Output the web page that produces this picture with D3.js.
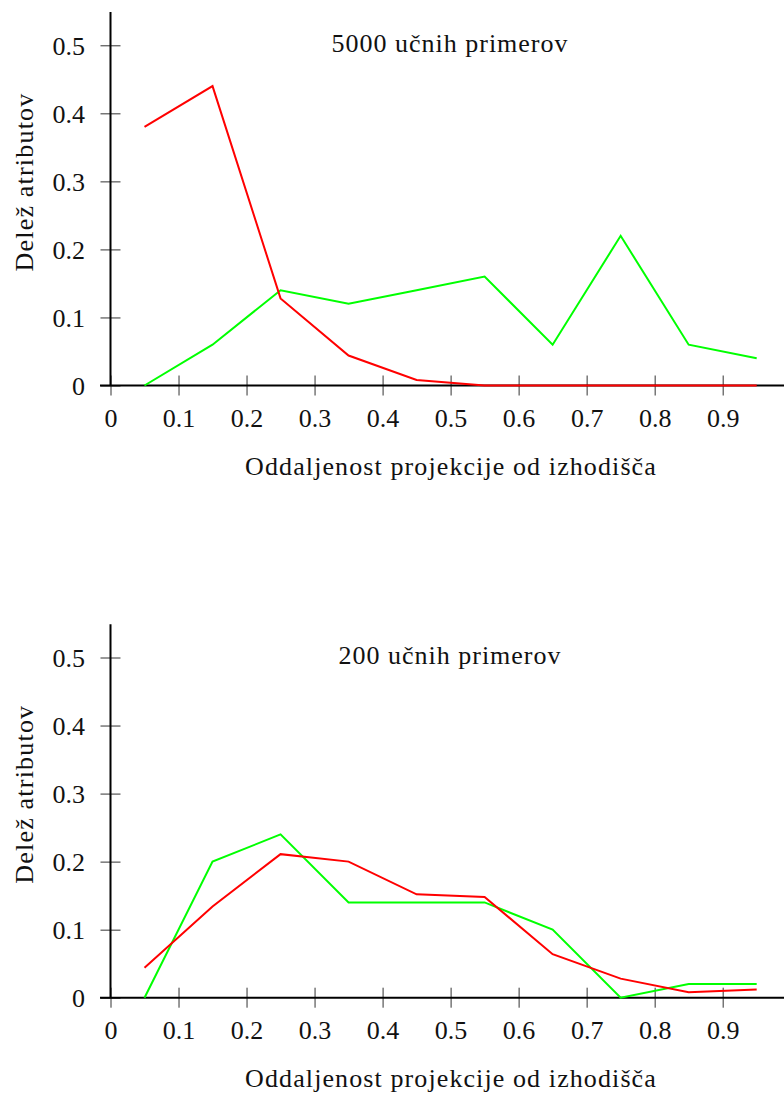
<!DOCTYPE html>
<html>
<head>
<meta charset="utf-8">
<script src="https://cdn.jsdelivr.net/npm/d3@7"></script>
<style>
  html, body { margin: 0; padding: 0; background: #fff; }
  svg { display: block; }
  svg text { font-family: "Liberation Serif", "DejaVu Serif", serif; fill: #111; }
</style>
</head>
<body>
<svg id="chart" width="784" height="1093"></svg>
<script>
// Bin centres of the projection distance
const binCentres = [0.05, 0.15, 0.25, 0.35, 0.45, 0.55, 0.65, 0.75, 0.85, 0.95];

// 5000 training examples
const red5000   = [0.38, 0.44, 0.128, 0.044, 0.008, 0, 0, 0, 0, 0];
const green5000 = [0, 0.06, 0.14, 0.12, 0.14, 0.16, 0.06, 0.22, 0.06, 0.04];

// 200 training examples
const red200   = [0.044, 0.134, 0.211, 0.20, 0.152, 0.148, 0.064, 0.028, 0.008, 0.012];
const green200 = [0, 0.20, 0.24, 0.14, 0.14, 0.14, 0.10, 0, 0.02, 0.02];

// Tick labels
const xTicks = [0, 0.1, 0.2, 0.3, 0.4, 0.5, 0.6, 0.7, 0.8, 0.9];
const xTickLabels = ["0", "0.1", "0.2", "0.3", "0.4", "0.5", "0.6", "0.7", "0.8", "0.9"];
const yTicks = [0, 0.1, 0.2, 0.3, 0.4, 0.5];
const yTickLabels = ["0", "0.1", "0.2", "0.3", "0.4", "0.5"];

const panelTitles = ["5000 učnih primerov", "200 učnih primerov"];
const xTitle = "Oddaljenost projekcije od izhodišča";
const yTitle = "Delež atributov";

const svg = d3.select("#chart");
const FONT = 26;
const SERIF = "'Liberation Serif', 'DejaVu Serif', serif";

function drawPanel(offsetY, title, redVals, greenVals) {
  const g = svg.append("g").attr("transform", `translate(0,${offsetY})`);

  const x = d3.scaleLinear().domain([0, 1]).range([110.5, 790.7]);
  const y = d3.scaleLinear().domain([0, 0.5]).range([385.5, 45.3]);

  // x ticks crossing the axis line
  const xAxis = d3.axisBottom(x)
    .tickValues(xTicks)
    .tickSize(20)
    .tickFormat((d, i) => xTickLabels[i]);
  const gx = g.append("g")
    .attr("transform", `translate(0,${y(0) - 10})`)
    .call(xAxis)
    .attr("font-family", SERIF)
    .attr("font-size", FONT);
  gx.select(".domain").remove();
  gx.selectAll(".tick line").attr("stroke", "#333").attr("stroke-width", 1);
  gx.selectAll(".tick text")
    .attr("y", 427 - (y(0) - 10))
    .attr("dy", null)
    .attr("fill", "#111");

  // y ticks crossing the axis line
  const yAxis = d3.axisLeft(y)
    .tickValues(yTicks)
    .tickSize(20)
    .tickFormat((d, i) => yTickLabels[i]);
  const gy = g.append("g")
    .attr("transform", `translate(${x(0) + 10},0)`)
    .call(yAxis)
    .attr("font-family", SERIF)
    .attr("font-size", FONT);
  gy.select(".domain").remove();
  gy.selectAll(".tick line").attr("stroke", "#333").attr("stroke-width", 1);
  gy.selectAll(".tick text")
    .attr("x", 85 - (x(0) + 10))
    .attr("dy", 8.7)
    .attr("text-anchor", "end")
    .attr("fill", "#111");

  // axis lines
  g.append("line")
    .attr("x1", 100).attr("x2", 784)
    .attr("y1", y(0)).attr("y2", y(0))
    .attr("stroke", "#000").attr("stroke-width", 2);
  g.append("line")
    .attr("x1", x(0)).attr("x2", x(0))
    .attr("y1", 12).attr("y2", y(0))
    .attr("stroke", "#000").attr("stroke-width", 2);

  // series
  const line = d3.line()
    .x((d, i) => x(binCentres[i]))
    .y(d => y(d));
  g.append("path")
    .datum(greenVals)
    .attr("d", line)
    .attr("fill", "none")
    .attr("stroke", "#00ff00")
    .attr("stroke-width", 2);
  g.append("path")
    .datum(redVals)
    .attr("d", line)
    .attr("fill", "none")
    .attr("stroke", "#ff0000")
    .attr("stroke-width", 2);

  // titles
  g.append("text")
    .attr("x", 450).attr("y", 51.7)
    .attr("text-anchor", "middle")
    .attr("font-family", SERIF)
    .attr("font-size", FONT)
    .attr("letter-spacing", 1.0)
    .text(title);
  g.append("text")
    .attr("x", 451).attr("y", 475)
    .attr("text-anchor", "middle")
    .attr("font-family", SERIF)
    .attr("font-size", FONT)
    .attr("letter-spacing", 1.1)
    .text(xTitle);
  g.append("text")
    .attr("transform", `translate(33,182) rotate(-90)`)
    .attr("text-anchor", "middle")
    .attr("font-family", SERIF)
    .attr("font-size", FONT)
    .attr("letter-spacing", 1.2)
    .text(yTitle);
}

drawPanel(0, panelTitles[0], red5000, green5000);
drawPanel(612.2, panelTitles[1], red200, green200);
</script>
</body>
</html>
